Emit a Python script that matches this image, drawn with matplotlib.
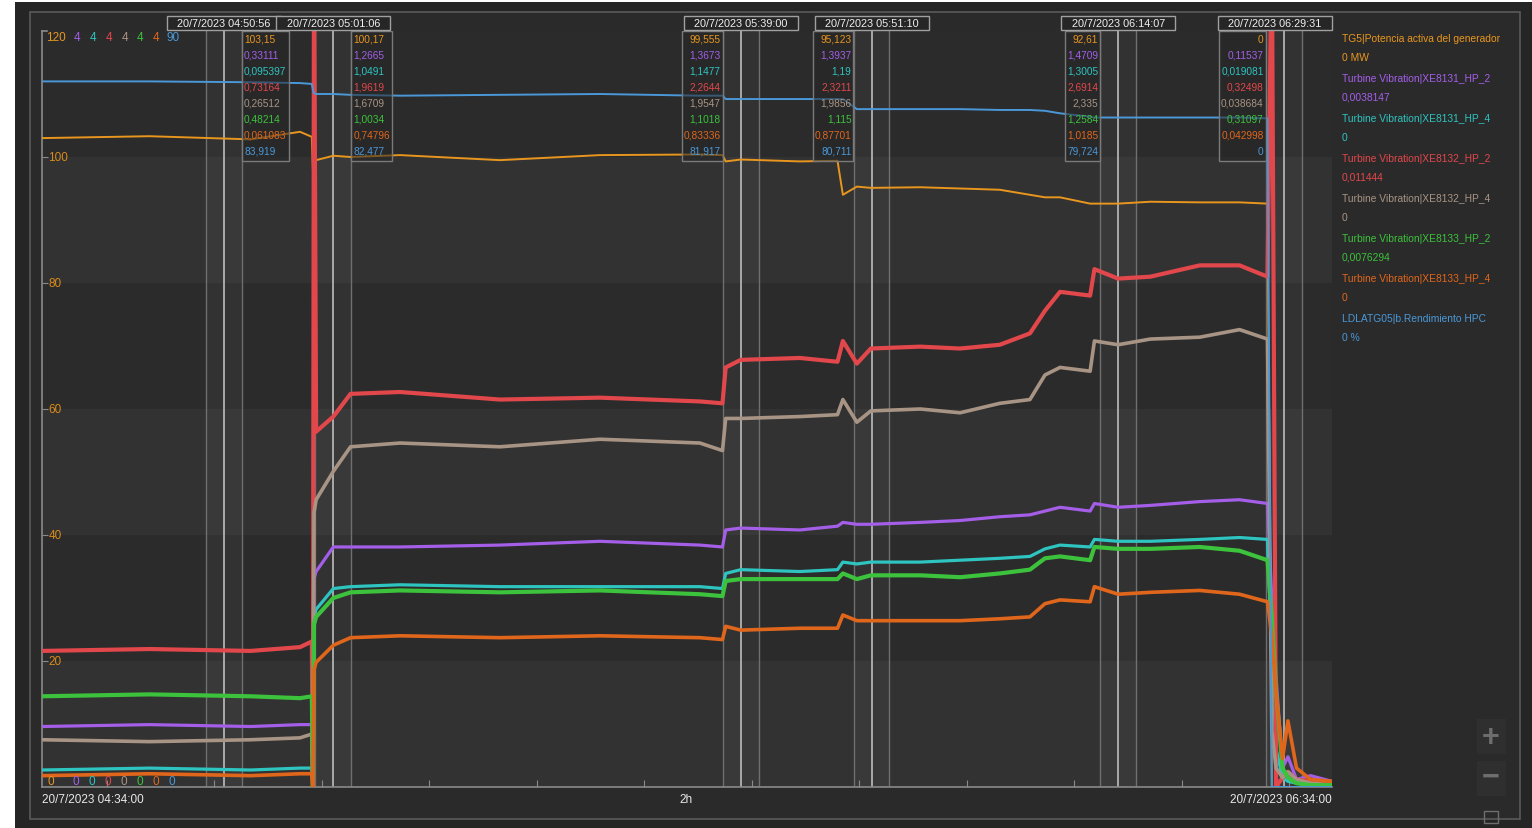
import numpy as np
import matplotlib
matplotlib.use('Agg')
import matplotlib.pyplot as plt
from matplotlib.patches import Rectangle
from matplotlib.transforms import blended_transform_factory

plt.rcParams['font.family'] = ['Liberation Sans', 'DejaVu Sans']

# tiempo en minutos desde 20/7/2023 04:34:00
t_min = [0.0, 10.0, 19.4, 24.0, 25.1, 25.2, 25.3, 25.5, 27.1, 28.7, 33.3, 42.6, 51.9, 61.2,
         63.3, 63.6, 65.0, 70.5, 74.0, 74.5, 75.8, 77.1, 81.7, 85.4, 89.1, 91.9, 93.3, 94.7,
         97.5, 97.9, 100.1, 103.1, 107.7, 111.4, 114.0, 114.4, 114.8, 115.4, 115.9, 116.7,
         118.0, 120.0]

potencia_mw = [103.0, 103.3, 102.8, 104.0, 103.2, 98.0, 99.0, 99.5, 100.2, 100.0, 100.3, 99.5,
               100.3, 100.4, 100.3, 99.3, 99.6, 99.3, 99.4, 94.0, 95.3, 95.1, 95.2, 95.0, 94.8,
               94.0, 93.6, 93.6, 92.6, 92.6, 92.6, 92.9, 92.8, 92.8, 92.6, 0, 0, 0, 0, 0, 0, 0]
xe8131_hp2 = [0.32, 0.33, 0.32, 0.33, 0.33, 0.0, 1.10, 1.14, 1.27, 1.27, 1.27, 1.28, 1.30, 1.28,
              1.27, 1.36, 1.37, 1.36, 1.38, 1.40, 1.39, 1.39, 1.40, 1.41, 1.43, 1.44, 1.46, 1.48,
              1.46, 1.50, 1.48, 1.49, 1.51, 1.52, 1.50, 1.0, 0.58, 0.10, 0.16, 0.04, 0.06, 0.03]
xe8131_hp4 = [0.09, 0.10, 0.09, 0.10, 0.10, 0.0, 0.90, 0.94, 1.05, 1.06, 1.07, 1.06, 1.06, 1.06,
              1.05, 1.13, 1.15, 1.14, 1.15, 1.19, 1.18, 1.19, 1.19, 1.20, 1.21, 1.22, 1.26, 1.28,
              1.27, 1.31, 1.30, 1.30, 1.31, 1.32, 1.31, 0.7, 0.2, 0.05, 0.03, 0.02, 0.01, 0.01]
xe8132_hp2 = [0.72, 0.73, 0.72, 0.74, 0.77, 0.0, 4.5, 1.88, 1.96, 2.08, 2.09, 2.05, 2.06, 2.04,
              2.03, 2.22, 2.26, 2.27, 2.25, 2.36, 2.24, 2.32, 2.33, 2.32, 2.34, 2.40, 2.52, 2.62,
              2.60, 2.74, 2.69, 2.70, 2.76, 2.76, 2.70, 4.5, 0.0, 0.05, 0.08, 0.04, 0.03, 0.02]
xe8132_hp4 = [0.25, 0.24, 0.25, 0.26, 0.28, 0.0, 1.45, 1.52, 1.67, 1.80, 1.82, 1.80, 1.84, 1.82,
              1.78, 1.95, 1.95, 1.96, 1.97, 2.05, 1.93, 1.99, 2.00, 1.98, 2.03, 2.05, 2.18, 2.22,
              2.20, 2.36, 2.34, 2.37, 2.38, 2.42, 2.37, 0.3, 0.1, 0.05, 0.08, 0.04, 0.02, 0.01]
xe8133_hp2 = [0.48, 0.49, 0.48, 0.47, 0.48, 0.0, 0.86, 0.90, 1.00, 1.03, 1.04, 1.03, 1.04, 1.02,
              1.01, 1.09, 1.10, 1.10, 1.10, 1.13, 1.10, 1.12, 1.12, 1.11, 1.13, 1.15, 1.21, 1.22,
              1.20, 1.27, 1.26, 1.26, 1.27, 1.25, 1.20, 0.9, 0.5, 0.1, 0.05, 0.02, 0.01, 0.01]
xe8133_hp4 = [0.06, 0.07, 0.06, 0.07, 0.07, 0.0, 0.62, 0.66, 0.75, 0.79, 0.80, 0.79, 0.80, 0.79,
              0.78, 0.85, 0.83, 0.84, 0.84, 0.91, 0.88, 0.88, 0.88, 0.88, 0.89, 0.90, 0.97, 0.99,
              0.98, 1.06, 1.02, 1.03, 1.04, 1.02, 0.98, 0.8, 0.5, 0.15, 0.35, 0.10, 0.04, 0.03]
rendimiento_hpc = [84.0, 84.0, 83.9, 83.8, 83.7, 83.0, 82.6, 82.5, 82.5, 82.4, 82.3, 82.4, 82.5,
                   82.3, 82.3, 81.9, 81.9, 81.9, 81.9, 81.9, 80.7, 80.7, 80.7, 80.7, 80.6, 80.6,
                   80.5, 80.2, 79.8, 79.7, 79.7, 79.7, 79.7, 79.7, 79.6, 0, 0, 0, 0, 0, 0, 0]

nombres = ['TG5|Potencia activa del generador', 'Turbine Vibration|XE8131_HP_2',
           'Turbine Vibration|XE8131_HP_4', 'Turbine Vibration|XE8132_HP_2',
           'Turbine Vibration|XE8132_HP_4', 'Turbine Vibration|XE8133_HP_2',
           'Turbine Vibration|XE8133_HP_4', 'LDLATG05|b.Rendimiento HPC']
ultimo_valor = ['0 MW', '0,0038147', '0', '0,011444', '0', '0,0076294', '0', '0 %']
escala_max = [120, 4, 4, 4, 4, 4, 4, 90]
colores = ['#e8961e', '#a45ee8', '#2ec4c0', '#e2474b', '#a89484', '#3cc23c', '#e0661c', '#4a98d8']
grosor = [1.4, 2.3, 2.3, 3.0, 2.6, 3.0, 2.6, 1.4]
series = [potencia_mw, xe8131_hp2, xe8131_hp4, xe8132_hp2, xe8132_hp4, xe8133_hp2,
          xe8133_hp4, rendimiento_hpc]

# cursores
cursor_t = [16.933, 27.1, 65.0, 77.167, 100.117, 115.517]
cursor_label = ['20/7/2023 04:50:56', '20/7/2023 05:01:06', '20/7/2023 05:39:00',
                '20/7/2023 05:51:10', '20/7/2023 06:14:07', '20/7/2023 06:29:31']
cursor_vals = [
    ['103,15', '0,33111', '0,095397', '0,73164', '0,26512', '0,48214', '0,061083', '83,919'],
    ['100,17', '1,2665', '1,0491', '1,9619', '1,6709', '1,0034', '0,74796', '82,477'],
    ['99,555', '1,3673', '1,1477', '2,2644', '1,9547', '1,1018', '0,83336', '81,917'],
    ['95,123', '1,3937', '1,19', '2,3211', '1,9856', '1,115', '0,87701', '80,711'],
    ['92,61', '1,4709', '1,3005', '2,6914', '2,335', '1,2584', '1,0185', '79,724'],
    ['0', '0,11537', '0,019081', '0,32498', '0,038684', '0,31097', '0,042998', '0'],
]
cursor_lado = ['right', 'right', 'left', 'left', 'left', 'left']
ventana = 100 / 60.0

W, H = 1532, 829
fig = plt.figure(figsize=(W / 100, H / 100), dpi=100, facecolor='#252525')

# fondo / marco
bg = fig.add_axes([0, 0, 1, 1], zorder=-5)
bg.set_xlim(0, W)
bg.set_ylim(H, 0)
bg.axis('off')
bg.add_patch(Rectangle((30, 13), 1490, 807, fc='#2a2a2a', ec='#5a5a5a', lw=1.2))
bg.add_patch(Rectangle((0, 0), 15, H, fc='white', ec='none'))
bg.add_patch(Rectangle((0, 0), W, 3, fc='white', ec='none'))
bg.add_patch(Rectangle((1477, 720), 29, 35, fc='#2f2f2f', ec='none'))
bg.add_patch(Rectangle((1477, 762), 29, 35, fc='#2f2f2f', ec='none'))
bg.text(1491, 738, '+', color='#6e6e6e', fontsize=22, ha='center', va='center', fontweight='bold')
bg.text(1491, 778, '\u2212', color='#6e6e6e', fontsize=22, ha='center', va='center', fontweight='bold')
bg.add_patch(Rectangle((1484, 812), 14, 12, fc='none', ec='#6e6e6e', lw=1))

L, R, T, B = 42, 1332, 32, 788
rect = [L / W, 1 - B / H, (R - L) / W, (B - T) / H]
ax = fig.add_axes(rect)
ax.set_facecolor('#2b2b2b')
ax.set_xlim(0, 120)
ax.set_ylim(0, 120)
for lo in (0, 40, 80):
    ax.axhspan(lo, lo + 20, color='#323232', lw=0, zorder=0)
for s in ('top', 'right'):
    ax.spines[s].set_visible(False)
for s in ('left', 'bottom'):
    ax.spines[s].set_color('#8a8a8a')
    ax.spines[s].set_linewidth(1.2)
ax.set_yticks([20, 40, 60, 80, 100])
ax.set_xticks(np.arange(6, 120, 10))
ax.tick_params(axis='y', direction='in', length=4, color='#8a8a8a', labelleft=False)
ax.tick_params(axis='x', direction='in', length=5, color='#8a8a8a', labelbottom=False)
ax.plot([0, 0.004], [1, 1], transform=ax.transAxes, color='#8a8a8a', lw=1.2, clip_on=False)
ytr = blended_transform_factory(ax.transAxes, ax.transData)
for v in [20, 40, 60, 80, 100]:
    ax.text(0.005, v, str(v), transform=ytr, color='#d98a1c', fontsize=8.5, va='center', ha='left')

# lineas de cursor
for tc in cursor_t:
    ax.axvspan(tc - ventana, tc + ventana, color='white', alpha=0.035, lw=0, zorder=1)
    ax.axvline(tc - ventana, color='#6f6f6f', lw=1, zorder=1)
    ax.axvline(tc + ventana, color='#6f6f6f', lw=1, zorder=1)
    ax.axvline(tc, color='#bdbdbd', lw=1.2, zorder=1)

# series, cada una con su propia escala
ax.plot(t_min, potencia_mw, color=colores[0], lw=grosor[0], zorder=3)
for i in range(1, 8):
    tw = ax.twinx()
    tw.set_ylim(0, escala_max[i])
    tw.axis('off')
    tw.plot(t_min, series[i], color=colores[i], lw=grosor[i], solid_joinstyle='round')

# capa superior para cajas de cursor
top = fig.add_axes(rect, sharex=ax, zorder=20)
top.set_ylim(0, 1)
top.patch.set_visible(False)
top.axis('off')
ttr = blended_transform_factory(top.transData, top.transAxes)
pad = 0.2
grupos = []
for tc, vals, lado in zip(cursor_t, cursor_vals, cursor_lado):
    if lado == 'right':
        x0, ha = tc + ventana + pad, 'left'
    else:
        x0, ha = tc - ventana - pad, 'right'
    txts = []
    for k, (v, c) in enumerate(zip(vals, colores)):
        yy = 1 - (8 + 16 * k) / (B - T)
        txts.append(top.text(x0, yy, v, transform=ttr, color=c, fontsize=7.3, ha=ha, va='center', zorder=5))
    grupos.append((tc, lado, txts))

fig.canvas.draw()
inv = top.transData.inverted()
ax_bb = top.get_window_extent()
for tc, lado, txts in grupos:
    bbs = [t.get_window_extent() for t in txts]
    xmin = min(b.x0 for b in bbs) - 2
    xmax = max(b.x1 for b in bbs) + 2
    ymax = ax_bb.y1
    ymin = ax_bb.y1 - 130
    (dx0, dy0), (dx1, dy1) = inv.transform([(xmin, ymin), (xmax, ymax)])
    top.add_patch(Rectangle((dx0, dy0), dx1 - dx0, dy1 - dy0, fc='#262626', alpha=0.55,
                            ec='none', zorder=3))
    top.add_patch(Rectangle((dx0, dy0), dx1 - dx0, dy1 - dy0, fc='none', ec='#7a7a7a',
                            lw=1, zorder=4))

# etiquetas de fecha arriba de cada cursor
for tc, lab in zip(cursor_t, cursor_label):
    xc = top.transData.transform((tc, 0))[0]
    x1 = min(xc + 57, ax_bb.x1)
    x0 = x1 - 114
    y0 = ax_bb.y1 + 1
    y1 = y0 + 14
    (dx0, dy0), (dx1, dy1) = inv.transform([(x0, y0), (x1, y1)])
    top.add_patch(Rectangle((dx0, dy0), dx1 - dx0, dy1 - dy0, fc='#262626', ec='#a0a0a0',
                            lw=1, clip_on=False, zorder=4))
    top.text((dx0 + dx1) / 2, (dy0 + dy1) / 2, lab, color='#f0f0f0', fontsize=7.8,
             ha='center', va='center', clip_on=False, zorder=5)

# escalas arriba / abajo
esc_txt = ['120', '4', '4', '4', '4', '4', '4', '90']
esc_x = [56, 77, 93, 109, 125, 140, 156, 173]
cero_x = [51, 76, 92, 108, 124, 140, 156, 172]
for s, x, x2, c in zip(esc_txt, esc_x, cero_x, colores):
    fig.text(x / W, 1 - 38 / H, s, color=c, fontsize=8.5, ha='center', va='center', zorder=30)
    fig.text(x2 / W, 1 - 782 / H, '0', color=c, fontsize=8.5, ha='center', va='center', zorder=30)

# eje de tiempo
fig.text(L / W, 1 - 800 / H, '20/7/2023 04:34:00', color='#e8e8e8', fontsize=8.5, ha='left', va='center')
fig.text(686 / W, 1 - 800 / H, '2h', color='#e8e8e8', fontsize=8.5, ha='center', va='center')
fig.text(R / W, 1 - 800 / H, '20/7/2023 06:34:00', color='#e8e8e8', fontsize=8.5, ha='right', va='center')

# leyenda a la derecha
for i, (n, u, c) in enumerate(zip(nombres, ultimo_valor, colores)):
    y = 39 + 40 * i
    fig.text(1342 / W, 1 - y / H, n, color=c, fontsize=7.4, ha='left', va='center')
    fig.text(1342 / W, 1 - (y + 19) / H, u, color=c, fontsize=7.4, ha='left', va='center')

fig.savefig('out.png', dpi=100, facecolor=fig.get_facecolor())
